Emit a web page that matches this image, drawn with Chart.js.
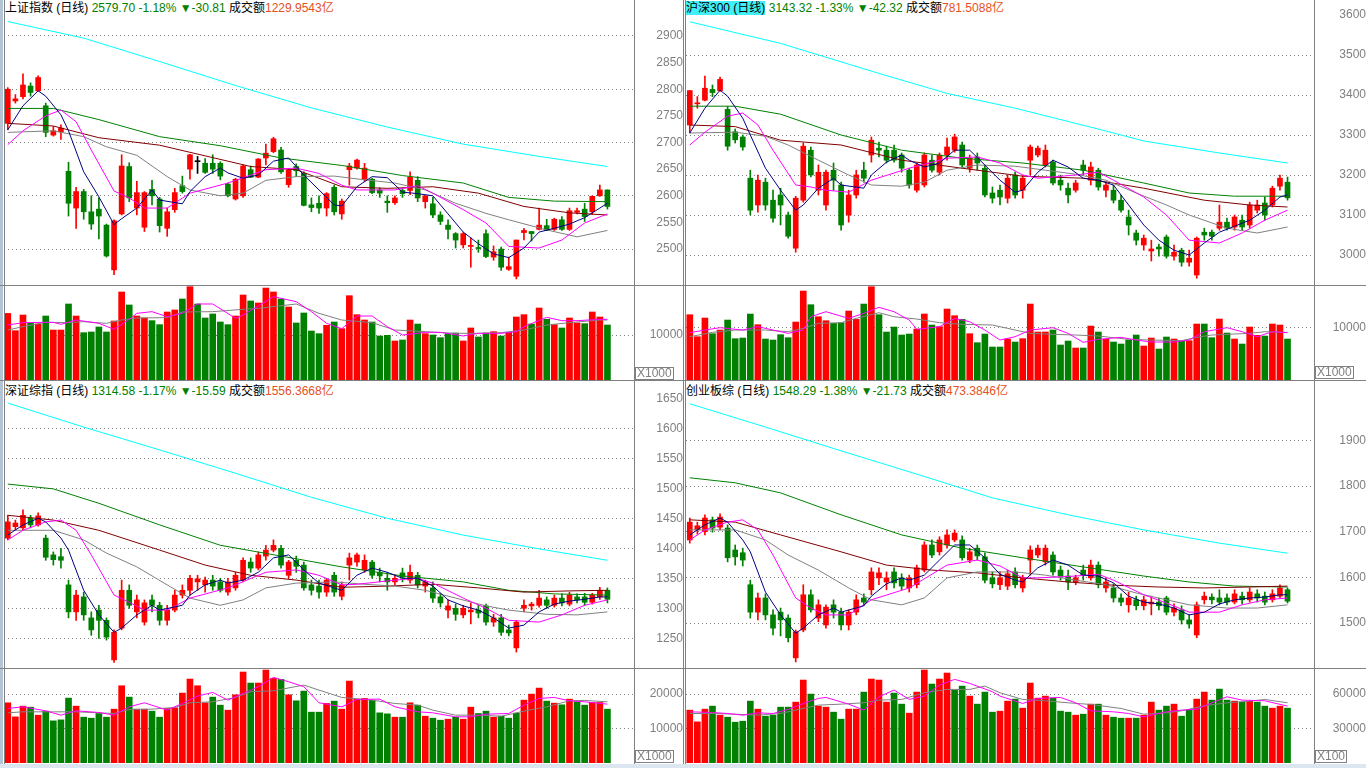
<!DOCTYPE html>
<html lang="zh-CN">
<head>
<meta charset="UTF-8">
<title>上证指数 沪深300 深证综指 创业板综 日线</title>
<script src="https://cdn.jsdelivr.net/npm/chart.js@4.4.1/dist/chart.umd.min.js"></script>
<style>
  html, body { margin: 0; padding: 0; background: #fff; }
  body { position: relative; width: 1366px; height: 768px; overflow: hidden;
         font-family: "Liberation Sans", Arial, "Noto Sans CJK SC", sans-serif; }
  canvas { position: absolute; }
  .ln { position: absolute; background: #808080; }
  .title { position: absolute; font-size: 12px; line-height: 16px; white-space: nowrap; color: #000; }
  .g { color: #008000; }
  .o { color: #e6501e; }
  .sel { background: #40f0f8; }
  .unit { position: absolute; border: 1px solid #808080; color: #808080; font-size: 12px;
          line-height: 11px; height: 11px; padding: 0 1px; background: #fff; }
</style>
</head>
<body>
<div class="title" style="left:5px;top:0px">上证指数 (日线) <span class="g">2579.70 -1.18% ▼-30.81</span> 成交额<span class="o">1229.9543亿</span></div>
<div class="title" style="left:686px;top:0px"><span class="sel">沪深300 (日线)</span> <span class="g">3143.32 -1.33% ▼-42.32</span> 成交额<span class="o">781.5088亿</span></div>
<div class="title" style="left:5px;top:383px">深证综指 (日线) <span class="g">1314.58 -1.17% ▼-15.59</span> 成交额<span class="o">1556.3668亿</span></div>
<div class="title" style="left:686px;top:383px">创业板综 (日线) <span class="g">1548.29 -1.38% ▼-21.73</span> 成交额<span class="o">473.3846亿</span></div>

<script>
// 80 trading days, 3 empty slots on the right edge
const slots = Array.from({ length: 83 }, (_, i) => i);

// ---------- 上证指数 ----------
const shOpen  = [2736,2778,2786,2806,2797,2769,2714,2720,2646,2577,2608,2570,2575,2545,2461,2566,2655,2577,2541,2612,
                 2594,2539,2574,2619,2650,2664,2661,2661,2661,2622,2594,2600,2649,2635,2671,2683,2686,2621,2655,2642,
                 2583,2586,2577,2616,2566,2649,2652,2631,2631,2611,2590,2587,2610,2610,2629,2589,2585,2564,2545,2529,
                 2508,2505,2503,2529,2485,2500,2462,2449,2531,2533,2537,2544,2537,2555,2537,2569,2575,2570,2600,2611];
const shHigh  = [2803,2790,2829,2812,2825,2774,2730,2733,2663,2616,2612,2600,2596,2547,2555,2677,2662,2627,2608,2629,
                 2597,2577,2614,2637,2678,2674,2670,2677,2664,2624,2633,2658,2656,2670,2697,2710,2691,2651,2660,2645,
                 2596,2600,2606,2620,2594,2661,2669,2661,2633,2615,2600,2600,2614,2645,2636,2600,2597,2570,2555,2531,
                 2531,2521,2517,2536,2506,2504,2485,2517,2539,2533,2577,2556,2558,2561,2577,2577,2586,2600,2620,2611];
const shLow   = [2724,2774,2782,2787,2797,2711,2712,2706,2562,2539,2556,2537,2519,2485,2452,2564,2589,2564,2533,2583,
                 2532,2524,2569,2605,2631,2642,2642,2642,2630,2598,2592,2597,2634,2634,2658,2681,2642,2616,2636,2581,
                 2570,2567,2562,2564,2556,2620,2650,2627,2604,2597,2569,2584,2597,2602,2589,2577,2559,2546,2519,2502,
                 2502,2466,2494,2484,2479,2460,2460,2444,2517,2515,2536,2535,2535,2535,2535,2566,2552,2565,2599,2575];
const shClose = [2800,2782,2808,2794,2822,2719,2722,2727,2586,2608,2570,2547,2562,2487,2553,2656,2596,2606,2606,2600,
                 2544,2570,2606,2608,2677,2664,2644,2650,2637,2600,2631,2656,2635,2669,2680,2707,2645,2649,2647,2582,
                 2578,2577,2604,2570,2590,2656,2667,2652,2606,2605,2587,2596,2604,2635,2596,2600,2564,2552,2537,2517,
                 2529,2507,2501,2486,2495,2466,2467,2517,2535,2529,2545,2535,2556,2537,2572,2572,2561,2599,2611,2580];
const shMa5   = [[0,2724],[2,2769],[4,2797],[5,2787],[7,2752],[8,2722],[10,2645],[12,2598],[14,2546],[15,2557],[17,2577],
                 [19,2611],[20,2592],[23,2585],[24,2608],[26,2636],[28,2652],[29,2643],[31,2633],[33,2639],[35,2665],[37,2671],
                 [39,2639],[41,2611],[43,2583],[44,2581],[46,2617],[48,2636],[50,2634],[52,2607],[54,2604],[56,2600],[58,2566],
                 [60,2532],[62,2510],[64,2491],[66,2484],[68,2502],[70,2532],[72,2539],[74,2547],[76,2559],[78,2577],[79,2586]];
const shMa10  = [[0,2696],[2,2722],[5,2750],[7,2761],[9,2739],[11,2686],[14,2609],[16,2596],[18,2577],[21,2577],[24,2605],
                 [29,2624],[34,2649],[38,2652],[41,2642],[44,2620],[46,2611],[51,2611],[54,2619],[56,2605],[60,2574],[63,2549],
                 [66,2505],[70,2502],[73,2517],[76,2549],[79,2566]];
const shMa20  = [[0,2719],[6,2722],[10,2711],[13,2692],[17,2676],[21,2636],[24,2611],[28,2600],[31,2605],[34,2629],[38,2636],
                 [43,2637],[47,2630],[51,2624],[55,2611],[59,2586],[63,2567],[66,2555],[71,2536],[75,2523],[79,2535]];
const shMa60  = [[0,2736],[6,2731],[12,2709],[20,2695],[26,2675],[32,2655],[38,2649],[44,2617],[50,2614],[56,2617],[62,2605],
                 [68,2580],[74,2568],[79,2564]];
const shMa120 = [[0,2764],[6,2764],[12,2743],[20,2711],[28,2694],[36,2671],[44,2657],[52,2638],[60,2624],[66,2597],[72,2590],[79,2589]];
const shMa250 = [[0,2927],[10,2896],[20,2852],[30,2807],[40,2765],[50,2729],[60,2697],[70,2674],[79,2655]];
const shVol   = [14800,10960,14440,12590,12440,14220,11110,11110,16890,14220,10520,10670,11780,10670,13110,19560,16670,14220,13780,13190,
                 12300,15110,15560,18000,20740,16890,13780,14670,12890,12300,14220,18890,17560,17110,20440,19560,18000,16220,12670,14890,
                 10890,10300,12150,12890,11410,18740,14520,13330,12890,9780,9930,8670,8890,13330,12440,10300,10000,9410,10300,10440,
                 8670,11560,9560,10440,10740,9780,10590,14000,14520,12440,16000,13480,12300,11560,13780,12670,12520,15110,14000,12220];
const shVolDir = 'RRRGRGRRGRGGGGRRGRRGGRRGRGGGGGRRGRRRGRGGGGRGRRRRGGGRGRGRGGGGRRGGRGRRRGRGRGRRGRRG';
const shVolMa5  = [[0,12222],[2,12740],[5,12815],[6,12815],[7,12370],[9,13333],[12,12592],[14,11259],[16,13481],[17,14815],[19,15185],
                   [21,14074],[23,14815],[25,16889],[27,16889],[30,13704],[31,14444],[33,16444],[35,18519],[38,17407],[40,15185],
                   [42,12592],[44,11407],[46,14222],[48,14222],[50,11852],[52,10000],[55,10593],[57,10593],[60,9778],[62,10370],
                   [65,10370],[67,10741],[68,11852],[71,13926],[73,13185],[75,13185],[78,13481],[79,13481]];
const shVolMa10 = [[0,11111],[2,11852],[5,12815],[8,12741],[10,12963],[13,12593],[15,13333],[17,13778],[21,13852],[23,15111],
                   [27,15185],[31,15704],[33,15926],[38,16889],[41,14815],[44,13333],[48,12741],[51,11111],[55,10741],[59,10370],
                   [62,10370],[65,10519],[68,11111],[71,12222],[74,12741],[78,13333],[79,13333]];
const shTicks = [2500,2550,2600,2650,2700,2750,2800,2850,2900];
const shGrid  = [2500,2600,2700,2800,2900];

// ---------- 沪深300 ----------
const hsOpen  = [3325,3378,3387,3414,3411,3364,3308,3295,3192,3125,3182,3137,3150,3100,3017,3137,3262,3162,3125,3212,
                 3175,3100,3150,3212,3250,3267,3262,3262,3250,3212,3162,3175,3237,3207,3250,3262,3275,3217,3245,3217,
                 3155,3162,3142,3200,3162,3237,3250,3225,3232,3187,3167,3162,3225,3187,3212,3162,3162,3137,3095,3055,
                 3025,3010,3020,3045,2997,3012,2982,2950,3057,3057,3067,3082,3070,3087,3075,3112,3130,3125,3172,3182];
const hsHigh  = [3411,3396,3447,3425,3445,3371,3315,3300,3212,3200,3192,3162,3167,3107,3147,3280,3270,3225,3212,3230,
                 3182,3162,3212,3232,3295,3282,3272,3275,3255,3217,3230,3255,3250,3255,3292,3302,3282,3250,3255,3225,
                 3170,3175,3200,3207,3200,3275,3272,3275,3237,3200,3180,3187,3237,3232,3217,3182,3175,3150,3112,3062,
                 3050,3037,3027,3050,3025,3017,3012,3045,3067,3062,3125,3092,3100,3100,3132,3137,3145,3172,3200,3195];
const hsLow   = [3305,3367,3385,3396,3409,3262,3280,3262,3100,3107,3112,3082,3075,3042,3007,3132,3195,3150,3112,3162,
                 3062,3082,3142,3182,3232,3245,3230,3232,3207,3167,3157,3170,3207,3200,3237,3257,3217,3207,3212,3145,
                 3130,3125,3130,3142,3142,3200,3245,3220,3175,3162,3130,3157,3200,3175,3162,3145,3130,3107,3050,3025,
                 3012,2985,2997,2992,2987,2972,2972,2942,3037,3037,3062,3062,3062,3062,3067,3105,3087,3120,3162,3137];
const hsClose = [3411,3380,3417,3406,3439,3272,3288,3270,3112,3187,3125,3092,3125,3047,3142,3272,3200,3207,3207,3187,
                 3075,3150,3200,3192,3287,3262,3237,3237,3217,3175,3225,3250,3212,3250,3270,3295,3225,3242,3230,3150,
                 3142,3145,3192,3150,3192,3270,3267,3262,3180,3175,3150,3180,3212,3220,3170,3175,3137,3112,3075,3037,
                 3042,3015,3015,2997,3007,2982,2992,3042,3050,3047,3082,3067,3095,3070,3125,3125,3100,3167,3192,3143];
const hsMa5   = [[0,3305],[2,3367],[4,3412],[5,3397],[7,3342],[8,3300],[10,3217],[12,3162],[14,3112],[15,3125],[17,3167],
                 [19,3192],[20,3175],[23,3167],[24,3200],[26,3232],[28,3250],[29,3237],[31,3220],[33,3230],[35,3262],[37,3262],
                 [39,3225],[41,3187],[43,3157],[44,3162],[46,3207],[48,3237],[50,3220],[52,3192],[54,3187],[56,3175],[58,3125],
                 [60,3075],[62,3037],[64,3012],[66,3000],[68,3030],[70,3057],[72,3072],[74,3087],[76,3112],[78,3145],[79,3150]];
const hsMa10  = [[0,3275],[2,3307],[5,3347],[7,3355],[9,3325],[11,3262],[14,3175],[16,3170],[18,3162],[21,3157],[24,3187],
                 [29,3217],[34,3242],[38,3245],[41,3230],[44,3200],[46,3192],[51,3200],[54,3207],[56,3187],[60,3145],[63,3100],
                 [66,3037],[70,3030],[73,3055],[76,3087],[79,3112]];
const hsMa20  = [[0,3305],[6,3307],[10,3297],[13,3275],[17,3237],[21,3200],[24,3175],[28,3172],[31,3182],[34,3212],[38,3225],
                 [43,3222],[47,3212],[51,3202],[55,3187],[59,3155],[63,3125],[66,3100],[71,3067],[75,3055],[79,3070]];
const hsMa60  = [[0,3325],[6,3321],[12,3287],[20,3275],[28,3237],[36,3217],[44,3197],[52,3192],[60,3167],[68,3137],[74,3125],[79,3120]];
const hsMa120 = [[0,3372],[6,3372],[12,3352],[20,3300],[28,3262],[36,3242],[44,3230],[52,3212],[60,3180],[66,3155],[72,3147],[79,3147]];
const hsMa250 = [[0,3583],[12,3529],[25,3454],[34,3404],[43,3367],[55,3310],[60,3285],[70,3255],[79,3230]];
const hsVol   = [12485,8281,11848,8854,9555,11466,7899,8026,12613,10574,7835,7644,8663,8090,11084,17008,14396,12103,11339,10829,
                 10956,13186,11593,14524,17836,12485,9173,10128,8600,8791,9746,12613,10511,10192,13568,12294,11593,8854,7134,8791,
                 6306,6306,7835,7262,7899,14524,9173,9173,9555,6689,7453,6115,6115,10319,9173,7771,7262,6880,7644,8600,
                 6497,8026,5924,8217,7835,7453,7517,10702,10702,8090,11657,8982,7835,6880,10128,8536,8408,10702,10511,7835];
const hsVolDir = 'RRRGRGGGGRGGGGRRGRRGGRRGRGGGGGRRGRRRGRGGGGRGRRRRGGGRGRGRGGGGRRGGRGRRGGRGRGRRGRRG';
const hsVolMa5  = [[0,9045],[2,9555],[4,10001],[7,9555],[9,10192],[11,9555],[13,8918],[15,9555],[16,12103],[18,13059],[21,11785],
                   [23,12740],[25,13887],[27,13059],[29,11466],[30,9682],[33,10192],[35,11785],[37,11148],[39,9555],[41,7644],
                   [43,8281],[45,9555],[48,10001],[50,8918],[52,7198],[54,7771],[57,8154],[59,7644],[61,7262],[64,7262],[66,7644],
                   [68,9237],[71,10001],[73,9237],[75,8281],[77,9237],[79,9045]];
const hsVolMa10 = [[0,8281],[3,9109],[6,9555],[10,9555],[13,9237],[15,9874],[17,10829],[20,10956],[22,11785],[25,12867],[27,12103],
                   [30,11657],[33,10956],[36,10638],[40,10511],[42,9874],[45,8918],[48,8727],[51,8600],[54,8408],[58,7771],
                   [61,7644],[65,7517],[67,8154],[69,8600],[72,8791],[74,8918],[76,9237],[79,9109]];
const hsTicks = [3000,3100,3200,3300,3400,3500,3600];
const hsGrid  = [3000,3100,3200,3300,3400,3500];

// ---------- 深证综指 ----------
const szOpen  = [1417,1436,1434,1450,1439,1417,1389,1386,1339,1294,1319,1284,1297,1280,1214,1267,1330,1294,1277,1314,
                 1305,1280,1297,1322,1330,1344,1339,1347,1344,1327,1334,1347,1377,1367,1387,1397,1400,1355,1380,1372,
                 1339,1337,1327,1355,1320,1372,1377,1364,1377,1360,1350,1344,1359,1347,1355,1337,1334,1319,1297,1300,
                 1289,1294,1297,1304,1277,1284,1264,1234,1300,1304,1305,1314,1305,1317,1307,1319,1319,1310,1319,1330];
const szHigh  = [1455,1447,1464,1455,1459,1422,1394,1400,1347,1330,1327,1294,1305,1284,1264,1347,1339,1322,1314,1322,
                 1310,1305,1330,1339,1355,1355,1352,1355,1350,1350,1360,1384,1384,1394,1405,1414,1405,1380,1387,1377,
                 1347,1347,1350,1360,1344,1392,1392,1389,1380,1367,1360,1355,1367,1372,1360,1347,1344,1325,1314,1307,
                 1305,1309,1305,1307,1290,1290,1272,1280,1314,1310,1330,1319,1322,1324,1327,1324,1325,1325,1335,1334];
const szLow   = [1414,1431,1431,1434,1437,1380,1372,1367,1284,1280,1280,1255,1250,1247,1210,1264,1300,1284,1272,1294,
                 1272,1272,1294,1317,1322,1330,1327,1330,1327,1322,1330,1344,1360,1364,1380,1394,1367,1350,1360,1330,
                 1322,1317,1320,1320,1314,1347,1370,1360,1350,1344,1330,1339,1344,1342,1334,1327,1310,1302,1284,1280,
                 1284,1274,1284,1272,1270,1255,1254,1227,1294,1297,1302,1300,1302,1304,1304,1309,1305,1307,1315,1309];
const szClose = [1444,1442,1455,1439,1454,1385,1381,1380,1294,1322,1289,1264,1280,1252,1260,1330,1305,1314,1309,1305,
                 1280,1297,1322,1330,1350,1349,1347,1337,1330,1344,1355,1380,1367,1389,1397,1405,1372,1377,1370,1334,
                 1330,1327,1347,1327,1339,1384,1389,1380,1355,1354,1344,1350,1352,1360,1339,1344,1317,1309,1304,1290,
                 1300,1297,1292,1277,1284,1260,1259,1277,1305,1307,1317,1305,1317,1309,1322,1314,1310,1322,1330,1315];
const szMa5   = [[0,1422],[2,1439],[4,1450],[5,1444],[7,1417],[8,1397],[10,1330],[12,1289],[14,1260],[15,1267],[17,1289],
                 [19,1305],[20,1297],[23,1305],[24,1322],[26,1339],[28,1347],[29,1342],[31,1347],[33,1360],[35,1384],[37,1389],
                 [39,1364],[41,1342],[43,1334],[44,1330],[46,1355],[48,1367],[50,1360],[52,1350],[54,1350],[56,1337],[58,1314],
                 [60,1304],[62,1297],[64,1284],[66,1267],[68,1272],[70,1294],[72,1307],[74,1312],[76,1315],[78,1319],[79,1319]];
const szMa10  = [[0,1414],[2,1430],[5,1444],[7,1447],[9,1430],[11,1389],[14,1322],[16,1310],[18,1297],[21,1297],[24,1317],
                 [29,1334],[34,1360],[38,1364],[41,1355],[44,1339],[46,1340],[51,1347],[54,1350],[56,1342],[60,1317],[63,1300],
                 [66,1280],[70,1277],[73,1289],[76,1305],[79,1314]];
const szMa20  = [[0,1430],[6,1430],[10,1414],[13,1392],[17,1369],[21,1339],[24,1317],[28,1305],[31,1314],[34,1334],[38,1342],
                 [43,1344],[47,1340],[51,1337],[55,1330],[59,1317],[63,1304],[66,1297],[71,1290],[75,1289],[79,1294]];
const szMa60  = [[0,1455],[6,1447],[12,1430],[20,1397],[26,1372],[32,1355],[38,1347],[44,1335],[50,1337],[56,1340],[62,1334],
                 [68,1327],[74,1329],[79,1330]];
const szMa120 = [[0,1507],[6,1499],[12,1475],[20,1439],[28,1405],[36,1387],[44,1369],[52,1354],[60,1344],[66,1330],[72,1324],[79,1322]];
const szMa250 = [[0,1642],[10,1602],[20,1564],[30,1525],[40,1485],[50,1450],[60,1422],[70,1399],[79,1380]];
const szVol   = [17476,13398,16505,16214,13883,15049,12233,12524,18835,16505,13301,13010,14369,13301,15631,22427,19126,15631,15631,15049,
                 13301,15825,16019,20291,24369,22427,17476,19126,16796,15340,19806,26408,23204,23204,26990,24563,24272,19806,18058,20875,
                 14757,14757,17282,17961,15631,23786,18544,18738,18252,14563,14272,13301,13301,17476,16796,13592,13010,12427,12718,13301,
                 12718,16214,14369,15049,13301,13592,13010,14466,18252,20000,21748,17961,17379,16893,18544,17767,16796,17573,17573,15631];
const szVolDir = 'RRRGRGGGGRGGGGRRGRRGGRRRRRRGGRRRGRRRGRGGGGRGRRRRGGGRGRGRGGRGRRGGRGGGRRRGRGRGGRRG';
const szVolMa5  = [[0,15827],[2,16313],[5,15148],[7,13885],[9,15148],[12,14662],[14,13885],[16,16313],[18,17478],[21,15342],
                   [23,17284],[25,19420],[27,20488],[29,18255],[31,20197],[33,22139],[35,24858],[37,23595],[39,22139],[41,17478],
                   [44,16313],[46,18449],[49,18546],[51,16313],[54,14856],[56,14565],[59,13400],[61,13400],[63,14177],[66,14371],
                   [68,16798],[70,18740],[72,19032],[74,18061],[76,17769],[79,17090]];
const szVolMa10 = [[0,14565],[2,14856],[6,14856],[9,14856],[12,14565],[14,14371],[16,15536],[19,15633],[22,16119],[24,17478],
                   [27,17769],[30,19032],[32,20682],[35,20974],[39,22624],[41,21168],[44,19032],[48,18255],[51,17284],[54,16798],
                   [56,15342],[59,13885],[62,13885],[65,13594],[68,15051],[71,16313],[74,18061],[76,18158],[79,17769]];
const szTicks = [1250,1300,1350,1400,1450,1500,1550,1600,1650];
const szGrid  = [1250,1300,1350,1400,1450,1500,1550,1600];

// ---------- 创业板综 ----------
const cyOpen  = [1682,1704,1700,1726,1710,1708,1660,1654,1584,1524,1555,1518,1524,1511,1424,1485,1562,1511,1496,1540,
                 1524,1496,1524,1555,1573,1599,1590,1612,1599,1577,1584,1616,1671,1656,1671,1682,1682,1638,1664,1645,
                 1599,1584,1581,1612,1577,1638,1649,1634,1649,1616,1603,1590,1616,1599,1627,1577,1577,1555,1540,1551,
                 1538,1542,1546,1555,1524,1529,1507,1474,1551,1557,1555,1555,1546,1559,1551,1564,1559,1551,1559,1573];
const cyHigh  = [1730,1721,1737,1732,1739,1715,1671,1664,1594,1566,1564,1529,1533,1518,1485,1584,1573,1551,1540,1551,
                 1533,1529,1562,1564,1621,1621,1612,1621,1608,1605,1627,1678,1682,1689,1704,1704,1691,1664,1671,1654,
                 1612,1612,1616,1621,1605,1669,1671,1671,1656,1625,1616,1605,1627,1638,1634,1599,1586,1564,1568,1559,
                 1559,1559,1555,1559,1542,1538,1518,1546,1568,1564,1573,1564,1573,1568,1577,1573,1568,1573,1584,1577];
const cyLow   = [1675,1695,1693,1699,1704,1634,1627,1625,1511,1507,1507,1474,1472,1459,1415,1481,1524,1503,1489,1511,
                 1485,1485,1518,1538,1562,1584,1573,1577,1573,1568,1577,1612,1643,1649,1664,1678,1638,1632,1638,1588,
                 1577,1573,1573,1577,1568,1605,1643,1627,1605,1594,1573,1584,1594,1594,1577,1568,1546,1538,1524,1529,
                 1529,1518,1529,1518,1516,1498,1489,1468,1542,1542,1540,1540,1542,1542,1546,1546,1540,1546,1555,1544];
const cyClose = [1721,1713,1730,1708,1732,1643,1645,1638,1524,1555,1518,1489,1507,1468,1481,1562,1529,1540,1535,1524,
                 1496,1524,1551,1546,1612,1610,1599,1588,1581,1599,1621,1671,1649,1682,1693,1697,1643,1656,1647,1594,
                 1586,1599,1608,1584,1599,1660,1664,1664,1612,1603,1590,1599,1605,1627,1584,1590,1555,1546,1555,1538,
                 1551,1546,1538,1524,1533,1507,1498,1540,1559,1551,1546,1546,1564,1551,1568,1555,1546,1564,1577,1548];
const cyMa5   = [[0,1693],[2,1715],[4,1730],[5,1721],[7,1682],[8,1656],[10,1568],[12,1518],[14,1478],[15,1489],[17,1518],
                 [19,1533],[20,1524],[23,1538],[24,1559],[26,1586],[28,1599],[29,1594],[31,1605],[33,1638],[35,1671],[37,1671],
                 [39,1643],[41,1607],[43,1594],[44,1590],[46,1621],[48,1638],[50,1627],[52,1605],[54,1603],[56,1588],[58,1559],
                 [60,1546],[62,1542],[64,1533],[66,1518],[68,1524],[70,1542],[72,1551],[74,1555],[76,1557],[78,1562],[79,1562]];
const cyMa10  = [[0,1682],[2,1704],[5,1721],[7,1726],[9,1704],[11,1649],[14,1555],[16,1533],[18,1518],[21,1518],[24,1551],
                 [29,1577],[34,1627],[38,1638],[41,1625],[44,1599],[46,1599],[51,1603],[54,1607],[56,1594],[60,1562],[63,1544],
                 [66,1524],[70,1524],[73,1540],[76,1551],[79,1555]];
const cyMa20  = [[0,1704],[6,1704],[10,1682],[13,1649],[17,1616],[21,1577],[24,1551],[28,1540],[31,1555],[34,1599],[38,1612],
                 [43,1612],[47,1605],[51,1594],[55,1584],[59,1566],[63,1551],[66,1540],[71,1533],[75,1533],[79,1540]];
const cyMa60  = [[0,1726],[6,1721],[12,1693],[20,1656],[26,1627],[32,1616],[38,1610],[44,1599],[50,1590],[56,1583],[62,1579],
                 [68,1577],[74,1579],[79,1581]];
const cyMa120 = [[0,1818],[6,1807],[12,1785],[20,1737],[28,1693],[36,1664],[44,1643],[52,1623],[60,1603],[66,1590],[72,1581],[79,1579]];
const cyMa250 = [[0,1980],[10,1929],[20,1877],[30,1826],[40,1774],[50,1737],[60,1704],[70,1675],[79,1653]];
const cyVol   = [46025,35830,46899,49521,41656,39908,35539,36413,53891,46899,40782,41656,48647,48647,53017,72242,60008,49521,48647,44278,
                 38160,46899,46899,61756,73116,72242,53017,60882,51269,43404,61756,80981,68747,73116,78360,63504,66999,58260,51269,61756,
                 44278,45152,53891,55638,47773,69621,56512,58260,56512,45152,44278,41656,42530,51269,51269,41656,39908,39034,39034,39034,
                 41656,53017,46025,49521,51269,40782,46025,55638,61756,54764,64377,54764,53891,53017,53891,53017,49521,47773,49521,47773];
const cyVolDir = 'RRRGRGGGGRGGGGRRGRRGGRRGRRRGGRRRGRRGGRGGGRRGRRRRGGGRGRGRGGRGRRGGRGGRRGGGRGRGGRRG';
const cyVolMa5  = [[0,44569],[3,43986],[5,43112],[7,41656],[9,43695],[11,43112],[13,46608],[15,51851],[17,56221],[18,57095],
                   [21,51269],[23,46025],[25,57677],[27,63503],[29,55347],[31,58260],[33,67873],[35,72825],[37,69329],[40,62047],
                   [41,58260],[44,51851],[46,56221],[49,57095],[51,52434],[53,45443],[56,44569],[58,43112],[60,40199],[63,44569],
                   [65,46025],[67,46899],[69,52434],[71,57677],[73,54764],[76,54182],[79,49521]];
const cyVolMa10 = [[0,43112],[3,43112],[6,42530],[9,41656],[12,43112],[14,46025],[17,50395],[20,51269],[23,52434],[25,54764],
                   [28,55347],[31,61173],[34,64086],[37,64086],[39,67000],[41,61173],[44,55347],[47,54182],[50,52434],[53,50978],
                   [57,47482],[60,42530],[63,43695],[65,45443],[68,49812],[71,52434],[74,53891],[76,55347],[79,52434]];
const cyTicks = [1500,1600,1700,1800,1900];
const cyGrid  = [1500,1600,1700,1800,1900];

const UP = '#ff0000', DOWN = '#008000', FLAT = '#000000';
const MA_COLORS = ['#000080', '#ff00ff', '#808080', '#800000', '#008000', '#00ffff'];

function series(pairs) {
  const out = slots.map(() => null);
  pairs.forEach(([i, v]) => { out[i] = v; });
  return out;
}

function addCanvas(x, y, w, h) {
  const c = document.createElement('canvas');
  c.width = w; c.height = h;
  c.style.left = x + 'px'; c.style.top = y + 'px';
  c.style.width = w + 'px'; c.style.height = h + 'px';
  document.body.appendChild(c);
  return c;
}

function lineSet(pairs, color) {
  return { type: 'line', data: series(pairs), borderColor: color, borderWidth: 1,
           pointRadius: 0, spanGaps: true, order: 0 };
}

function yAxis(min, max, ticks, grid, width, pad) {
  return {
    position: 'right', min, max,
    afterFit: s => { s.width = width; s.paddingTop = 0; s.paddingBottom = 0; },
    afterBuildTicks: s => { s.ticks = ticks.map(v => ({ value: v })); },
    border: { display: false, dash: [1, 3] },
    grid: { drawTicks: false, lineWidth: 1,
            color: ctx => (ctx.tick && grid.includes(ctx.tick.value)) ? '#808080' : 'rgba(0,0,0,0)' },
    ticks: { color: '#808080', padding: pad, crossAlign: 'far', callback: v => String(v),
             font: { family: 'Liberation Sans', size: 12 } }
  };
}

function baseOptions(padLeft, y) {
  return {
    responsive: false, animation: false, events: [],
    layout: { padding: { left: padLeft, right: 0, top: 0, bottom: 0 } },
    plugins: { legend: { display: false }, tooltip: { enabled: false } },
    scales: { x: { display: false, offset: true }, y }
  };
}

function priceChart(canvas, p) {
  const col = p.open.map((o, i) => p.close[i] > o ? UP : (p.close[i] < o ? DOWN : FLAT));
  const datasets = p.mas.map((m, k) => lineSet(m, MA_COLORS[k]));
  datasets.push({ type: 'bar', data: p.open.map((o, i) => [o, p.close[i]]), backgroundColor: col,
                  barThickness: 5, minBarLength: 1, grouped: false, order: 1 });
  datasets.push({ type: 'bar', data: p.low.map((l, i) => [l, p.high[i]]), backgroundColor: col,
                  barThickness: 1, grouped: false, order: 2 });
  new Chart(canvas, {
    type: 'bar',
    data: { labels: slots, datasets },
    options: baseOptions(p.padLeft, yAxis(p.min, p.max, p.ticks, p.grid, p.axisW, p.tickPad))
  });
}

function volumeChart(canvas, v) {
  const col = v.dir.split('').map(d => d === 'R' ? UP : DOWN);
  new Chart(canvas, {
    type: 'bar',
    data: {
      labels: slots,
      datasets: [
        lineSet(v.ma5, '#ff00ff'),
        lineSet(v.ma10, '#808080'),
        { type: 'bar', data: v.vol, backgroundColor: col, barThickness: 6, grouped: false, order: 1 }
      ]
    },
    options: baseOptions(v.padLeft, yAxis(0, v.max, v.ticks, v.ticks, v.axisW, 14))
  });
}

// 上证指数
priceChart(addCanvas(0, 0, 683, 285), {
  open: shOpen, high: shHigh, low: shLow, close: shClose,
  mas: [shMa5, shMa10, shMa20, shMa60, shMa120, shMa250],
  min: 2432.6, max: 2967.5, ticks: shTicks, grid: shGrid, padLeft: 4, axisW: 49, tickPad: 21
});
volumeChart(addCanvas(0, 286, 683, 94), {
  vol: shVol, dir: shVolDir, ma5: shVolMa5, ma10: shVolMa10,
  max: 20889, ticks: [10000], padLeft: 4, axisW: 49
});

// 沪深300
priceChart(addCanvas(683, 0, 683, 285), {
  open: hsOpen, high: hsHigh, low: hsLow, close: hsClose,
  mas: [hsMa5, hsMa10, hsMa20, hsMa60, hsMa120, hsMa250],
  min: 2925, max: 3637.5, ticks: hsTicks, grid: hsGrid, padLeft: 3, axisW: 52, tickPad: 22
});
volumeChart(addCanvas(683, 286, 683, 94), {
  vol: hsVol, dir: hsVolDir, ma5: hsVolMa5, ma10: hsVolMa10,
  max: 17973, ticks: [10000], padLeft: 3, axisW: 52
});

// 深证综指
priceChart(addCanvas(0, 381, 683, 287), {
  open: szOpen, high: szHigh, low: szLow, close: szClose,
  mas: [szMa5, szMa10, szMa20, szMa60, szMa120, szMa250],
  min: 1200.5, max: 1678.8, ticks: szTicks, grid: szGrid, padLeft: 4, axisW: 49, tickPad: 21
});
volumeChart(addCanvas(0, 669, 683, 94), {
  vol: szVol, dir: szVolDir, ma5: szVolMa5, ma10: szVolMa10,
  max: 27289, ticks: [10000, 20000], padLeft: 4, axisW: 49
});

// 创业板综
priceChart(addCanvas(683, 381, 683, 287), {
  open: cyOpen, high: cyHigh, low: cyLow, close: cyClose,
  mas: [cyMa5, cyMa10, cyMa20, cyMa60, cyMa120, cyMa250],
  min: 1401.8, max: 2029.8, ticks: cyTicks, grid: cyGrid, padLeft: 3, axisW: 52, tickPad: 22
});
volumeChart(addCanvas(683, 669, 683, 94), {
  vol: cyVol, dir: cyVolDir, ma5: cyVolMa5, ma10: cyVolMa10,
  max: 81866, ticks: [30000, 60000], padLeft: 3, axisW: 52
});

// frame lines
function line(x, y, w, h, color) {
  const d = document.createElement('div');
  d.className = 'ln';
  d.style.cssText = `left:${x}px;top:${y}px;width:${w}px;height:${h}px;` + (color ? `background:${color};` : '');
  document.body.appendChild(d);
}
line(0, 0, 3, 768, '#b4c4d4');
line(4, 0, 1, 765);
line(634, 0, 1, 765);
line(683, 0, 1, 765);
line(685, 0, 1, 765);
line(1314, 0, 1, 765);
line(0, 285, 1366, 1);
line(0, 380, 1366, 1);
line(0, 668, 1366, 1);
line(0, 764, 1366, 4, '#dce6f0');

function unit(x, y, text) {
  const d = document.createElement('div');
  d.className = 'unit';
  d.style.left = x + 'px'; d.style.top = y + 'px';
  d.textContent = text;
  document.body.appendChild(d);
}
unit(635, 367, 'X1000');
unit(1315, 366, 'X1000');
unit(635, 750, 'X1000');
unit(1315, 750, 'X100');
</script>
</body>
</html>
